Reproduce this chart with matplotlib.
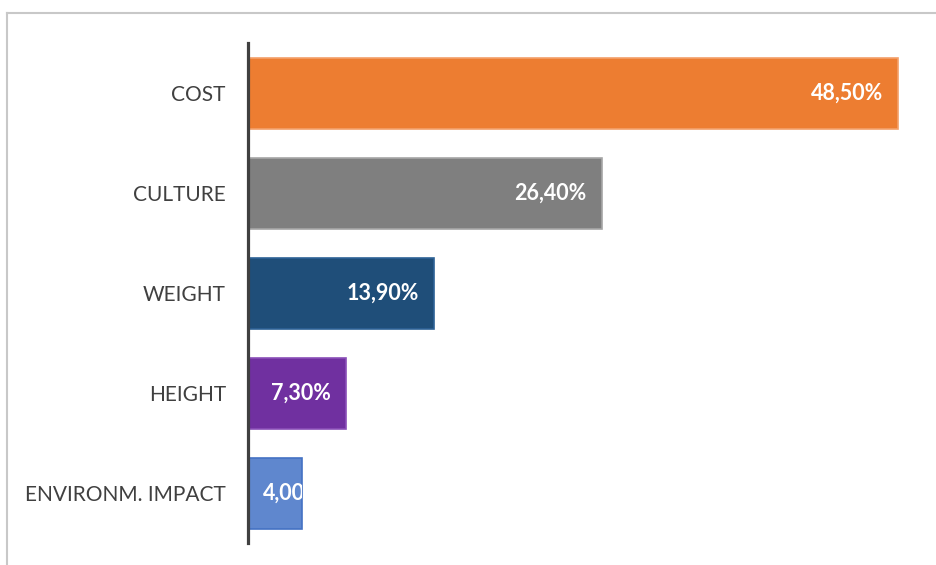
import matplotlib.pyplot as plt
from matplotlib.lines import Line2D

categories = ["COST", "CULTURE", "WEIGHT", "HEIGHT", "ENVIRONM. IMPACT"]
values = [48.5, 26.4, 13.9, 7.3, 4.0]
labels = ["48,50%", "26,40%", "13,90%", "7,30%", "4,00%"]
colors = ["#ED7D31", "#7F7F7F", "#1F4E79", "#7030A0", "#5F87CE"]
edges = ["#F4A06A", "#A6A6A6", "#2E6296", "#8A4FB8", "#4472C4"]

plt.rcParams['font.family'] = ['Lato', 'DejaVu Sans']

W, H = 937, 565
fig = plt.figure(figsize=(W / 100, H / 100), dpi=100)

# rahmen (nur oben und links sichtbar)
fig.add_artist(Line2D([7.5 / W, 1], [1 - 13 / H, 1 - 13 / H], color="#C8C8C8", lw=1.5))
fig.add_artist(Line2D([7.5 / W, 7.5 / W], [0, 1 - 13 / H], color="#C8C8C8", lw=1.5))

ax = fig.add_axes([248 / W, 22 / H, 670 / W, 500 / H])
bars = ax.barh(range(len(values)), values, height=0.71, color=colors,
               edgecolor=edges, linewidth=1.2)
ax.set_xlim(0, 50)
ax.set_ylim(4.5, -0.5)

ax.set_yticks(range(len(categories)))
ax.set_yticklabels(categories, fontsize=15, color="#404040")
ax.tick_params(axis="y", length=0, pad=16)
ax.set_xticks([])
for s in ["top", "right", "bottom"]:
    ax.spines[s].set_visible(False)
ax.spines["left"].set_color("#404040")
ax.spines["left"].set_linewidth(2.3)
ax.spines["left"].set_zorder(5)

for i, (b, v, lab) in enumerate(zip(bars, values, labels)):
    if v > 6:
        t = ax.annotate(lab, (v, i), xytext=(-15, 0), textcoords="offset pixels",
                        ha="right", va="center", color="white",
                        fontsize=15.5, fontweight="bold")
    else:
        # zu schmal: text beginnt links und wird am balken abgeschnitten
        t = ax.annotate(lab, (0, i), xytext=(15, 0), textcoords="offset pixels",
                        ha="left", va="center", color="white",
                        fontsize=15.5, fontweight="bold")
        t.set_clip_path(b)

fig.savefig("out.png", dpi=100)
